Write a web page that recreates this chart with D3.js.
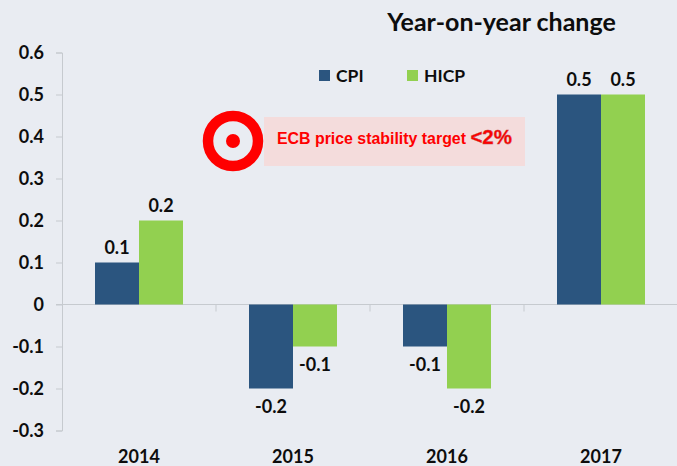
<!DOCTYPE html>
<html><head><meta charset="utf-8">
<script src="https://cdn.jsdelivr.net/npm/d3@7/dist/d3.min.js"></script>
<style>html,body{margin:0;padding:0;background:#e9ecf2;overflow:hidden}svg{display:block}</style>
</head><body><svg id="c" width="677" height="466"></svg>
<script>
const years = ["2014","2015","2016","2017"];
const seriesNames = ["CPI","HICP"];
const cpi = [0.1,-0.2,-0.1,0.5];
const hicp = [0.2,-0.1,-0.2,0.5];
const yTicks = [0.6,0.5,0.4,0.3,0.2,0.1,0,-0.1,-0.2,-0.3];
const colors = ["#2b557f","#92d050"];
const font = "Lato, 'Open Sans', sans-serif";
const fmt = d => d===0 ? "0" : d3.format(".1f")(d).replace("\u2212","-");
const svg = d3.select("#c").attr("font-family",font);
const y = d3.scaleLinear().domain([-0.3,0.6]).range([430.5,52.5]);
const x = d3.scaleBand().domain(years).range([62,678]);
const inner = d3.scaleBand().domain(seriesNames).range([33,121]);
const axisCol = "#c6cacf";

svg.append("text").attr("x",501.5).attr("y",31).attr("text-anchor","middle").attr("font-size",25).attr("font-weight",700).attr("fill","#0d0d0d").text("Year-on-year change");

const yAxis = d3.axisLeft(y).tickValues(yTicks).tickSize(6).tickPadding(12).tickFormat(fmt);
const gy = svg.append("g").attr("transform","translate(62,0)").call(yAxis);
gy.select(".domain").attr("stroke",axisCol).attr("stroke-width",1);
gy.selectAll(".tick line").attr("stroke",axisCol);
gy.selectAll("text").attr("font-size",18).attr("font-weight",700).attr("fill","#0d0d0d").attr("font-family",font);

const gx = svg.append("g").attr("transform",`translate(0,${y(0)})`);
gx.append("line").attr("x1",56).attr("x2",677).attr("stroke",axisCol);
gx.selectAll("line.sep").data(years).enter().append("line").attr("class","sep")
  .attr("x1",d=>x(d)+x.bandwidth()).attr("x2",d=>x(d)+x.bandwidth()).attr("y1",0).attr("y2",7).attr("stroke",axisCol);

[cpi,hicp].forEach((vals,i)=>{
  const name = seriesNames[i];
  const g = svg.append("g");
  g.selectAll("rect").data(vals).enter().append("rect")
    .attr("x",(d,j)=>x(years[j])+inner(name)).attr("width",inner.bandwidth())
    .attr("y",d=>Math.min(y(d),y(0))).attr("height",d=>Math.abs(y(d)-y(0))).attr("fill",colors[i]);
  g.selectAll("text").data(vals).enter().append("text")
    .attr("x",(d,j)=>x(years[j])+inner(name)+inner.bandwidth()/2)
    .attr("y",d=>d>=0?y(d)-9:y(d)+24)
    .attr("text-anchor","middle").attr("font-size",18).attr("font-weight",700).attr("fill","#0d0d0d")
    .text(fmt);
});

svg.append("g").selectAll("text").data(years).enter().append("text")
  .attr("x",d=>x(d)+x.bandwidth()/2).attr("y",463).attr("text-anchor","middle")
  .attr("font-size",18).attr("font-weight",700).attr("fill","#0d0d0d").text(d=>d);

const legendX = [319,407];
seriesNames.forEach((n,i)=>{
  svg.append("rect").attr("x",legendX[i]).attr("y",70).attr("width",11).attr("height",11).attr("fill",colors[i]);
  svg.append("text").attr("x",legendX[i]+17).attr("y",82).attr("font-size",17.5).attr("font-weight",700).attr("fill","#0d0d0d").text(n);
});

svg.append("rect").attr("x",264).attr("y",117).attr("width",261).attr("height",49).attr("fill","#f4dcdc");
svg.append("circle").attr("cx",233).attr("cy",141).attr("r",25).attr("fill","none").attr("stroke","#ff0000").attr("stroke-width",10.5);
svg.append("circle").attr("cx",233).attr("cy",141).attr("r",7).attr("fill","#ff0000");
const t = svg.append("text").attr("x",277).attr("y",143.5).attr("font-family","'Liberation Sans',Arial,sans-serif").attr("font-weight",700).attr("fill","#ff0000").attr("font-size",15.9);
t.append("tspan").text("ECB price stability target ");
t.append("tspan").attr("font-size",20.5).attr("stroke","#c04040").attr("stroke-width",0.4).text("<2%");
</script></body></html>
